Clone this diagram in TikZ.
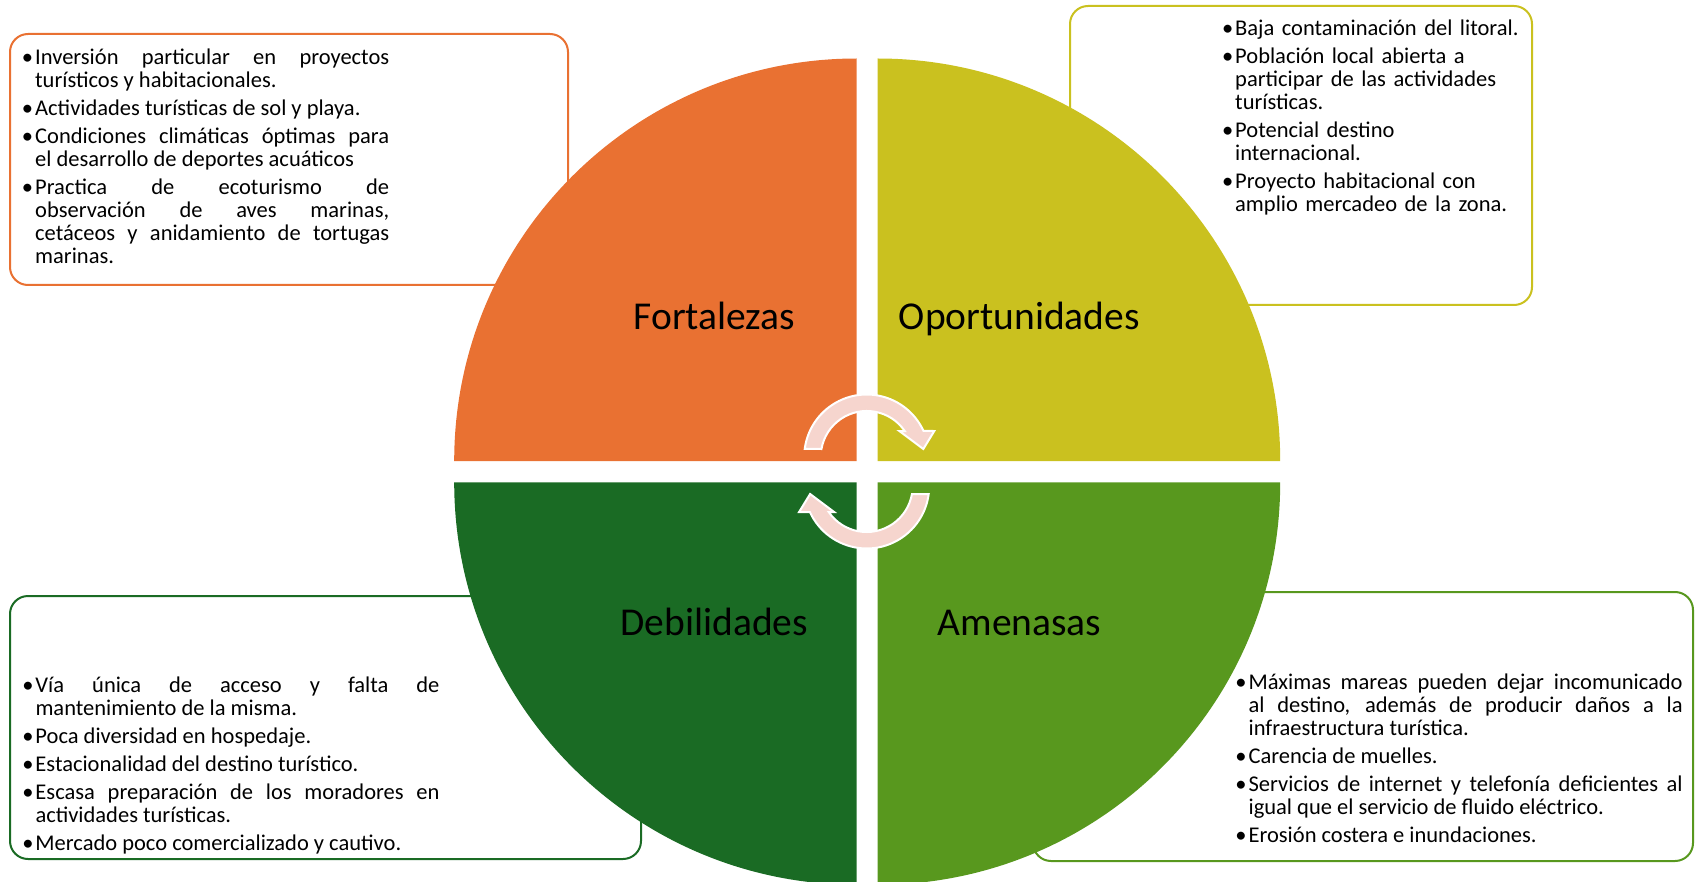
\documentclass[tikz,border=0pt]{standalone}
\usepackage{fontspec}
\setmainfont{Carlito}

\definecolor{fortcol}{RGB}{233,113,50}
\definecolor{oportcol}{RGB}{202,193,31}
\definecolor{debilcol}{RGB}{26,107,36}
\definecolor{amencol}{RGB}{88,152,30}
\definecolor{arrowcol}{RGB}{246,213,206}

\newcommand{\bul}{\leavevmode\llap{\textbullet\hspace{2pt}}}

\begin{document}
\begin{tikzpicture}[x=1pt,y=-1pt,
  listbox/.style={draw=#1,line width=2pt,rounded corners=18pt,fill=white},
  listtext/.style={anchor=base west,inner sep=0pt,text width=#1,
    font=\fontsize{22.5}{23}\selectfont,
    execute at begin node={\setlength{\parskip}{5pt}\tolerance=10000\hbadness=10000}},
  quadname/.style={anchor=base,inner sep=0pt,font=\fontsize{39.5}{40}\selectfont},
  turnarrow/.style={fill=arrowcol,draw=white,line width=2pt}]
  \useasboundingbox (0,0) rectangle (1696,882);
  \clip (0,0) rectangle (1696,882);

  % boxes sit behind the circle
  \draw[listbox=fortcol] (10,34) rectangle (568,285);
  \draw[listbox=oportcol] (1070,6) rectangle (1532,305);
  \draw[listbox=debilcol] (10,596) rectangle (641,859);
  \draw[listbox=amencol] (1033,592) rectangle (1693,861);

  % four quarters
  \fill[fortcol] (856.7,461) -- (454.2,461) arc[start angle=180,end angle=270,radius=402.5] -- cycle;
  \fill[oportcol] (877.7,461) -- (877.7,58.5) arc[start angle=270,end angle=360,radius=402.5] -- cycle;
  \fill[amencol] (877.7,482.3) -- (1280.2,482.3) arc[start angle=0,end angle=90,radius=402.5] -- cycle;
  \fill[debilcol] (856.7,482.3) -- (856.7,884.8) arc[start angle=90,end angle=180,radius=402.5] -- cycle;

  % turning arrows in the middle
  \path[turnarrow] (866.7,457) ++(187.4:62.5) arc[start angle=187.4,end angle=335.4,radius=62.5]
    -- (934.3,431) -- (923.3,449) -- (899.3,431) -- (904.7,431)
    arc[start angle=325.6,end angle=190,radius=46] -- cycle;
  \path[turnarrow] (866.7,486) ++(7.4:62.5) arc[start angle=7.4,end angle=155.4,radius=62.5]
    -- (799.1,512) -- (810.1,494) -- (834.1,512) -- (828.7,512)
    arc[start angle=145.6,end angle=10,radius=46] -- cycle;

  \node[quadname] (fort) at (714.4,329.3) {Fortalezas};
  \node[quadname] (oport) at (1019.4,329.3) {Oportunidades};
  \node[quadname] (debil) at (714.4,635) {Debilidades};
  \node[quadname] (amen) at (1019.4,635) {Amenasas};

  \node[listtext=354pt,align=justify] (fortlist) at (35,64.5) {%
    \bul Inversión particular en proyectos\linebreak turísticos y habitacionales.\par
    \bul Actividades turísticas de sol y playa.\par
    \bul Condiciones climáticas óptimas para\linebreak el desarrollo de deportes acuáticos\par
    \bul Practica de ecoturismo de\linebreak observación de aves marinas,\linebreak cetáceos y anidamiento de tortugas\linebreak marinas.};
  \node[listtext=295pt,align=left] (oportlist) at (1235,35.5) {%
    \bul Baja contaminación del litoral.\par
    \bul Población local abierta a\newline participar de las actividades\newline turísticas.\par
    \bul Potencial destino\newline internacional.\par
    \bul Proyecto habitacional con\newline amplio mercadeo de la zona.};
  \node[listtext=404pt,align=justify] (debillist) at (35.3,692) {%
    \bul Vía única de acceso y falta de\linebreak mantenimiento de la misma.\par
    \bul Poca diversidad en hospedaje.\par
    \bul Estacionalidad del destino turístico.\par
    \bul Escasa preparación de los moradores en\linebreak actividades turísticas.\par
    \bul Mercado poco comercializado y cautivo.};
  \node[listtext=434pt,align=justify] (amenlist) at (1248.4,689.5) {%
    \bul Máximas mareas pueden dejar incomunicado\linebreak al destino, además de producir daños a la\linebreak infraestructura turística.\par
    \bul Carencia de muelles.\par
    \bul Servicios de internet y telefonía deficientes al\linebreak igual que el servicio de fluido eléctrico.\par
    \bul Erosión costera e inundaciones.};
\end{tikzpicture}
\end{document}
